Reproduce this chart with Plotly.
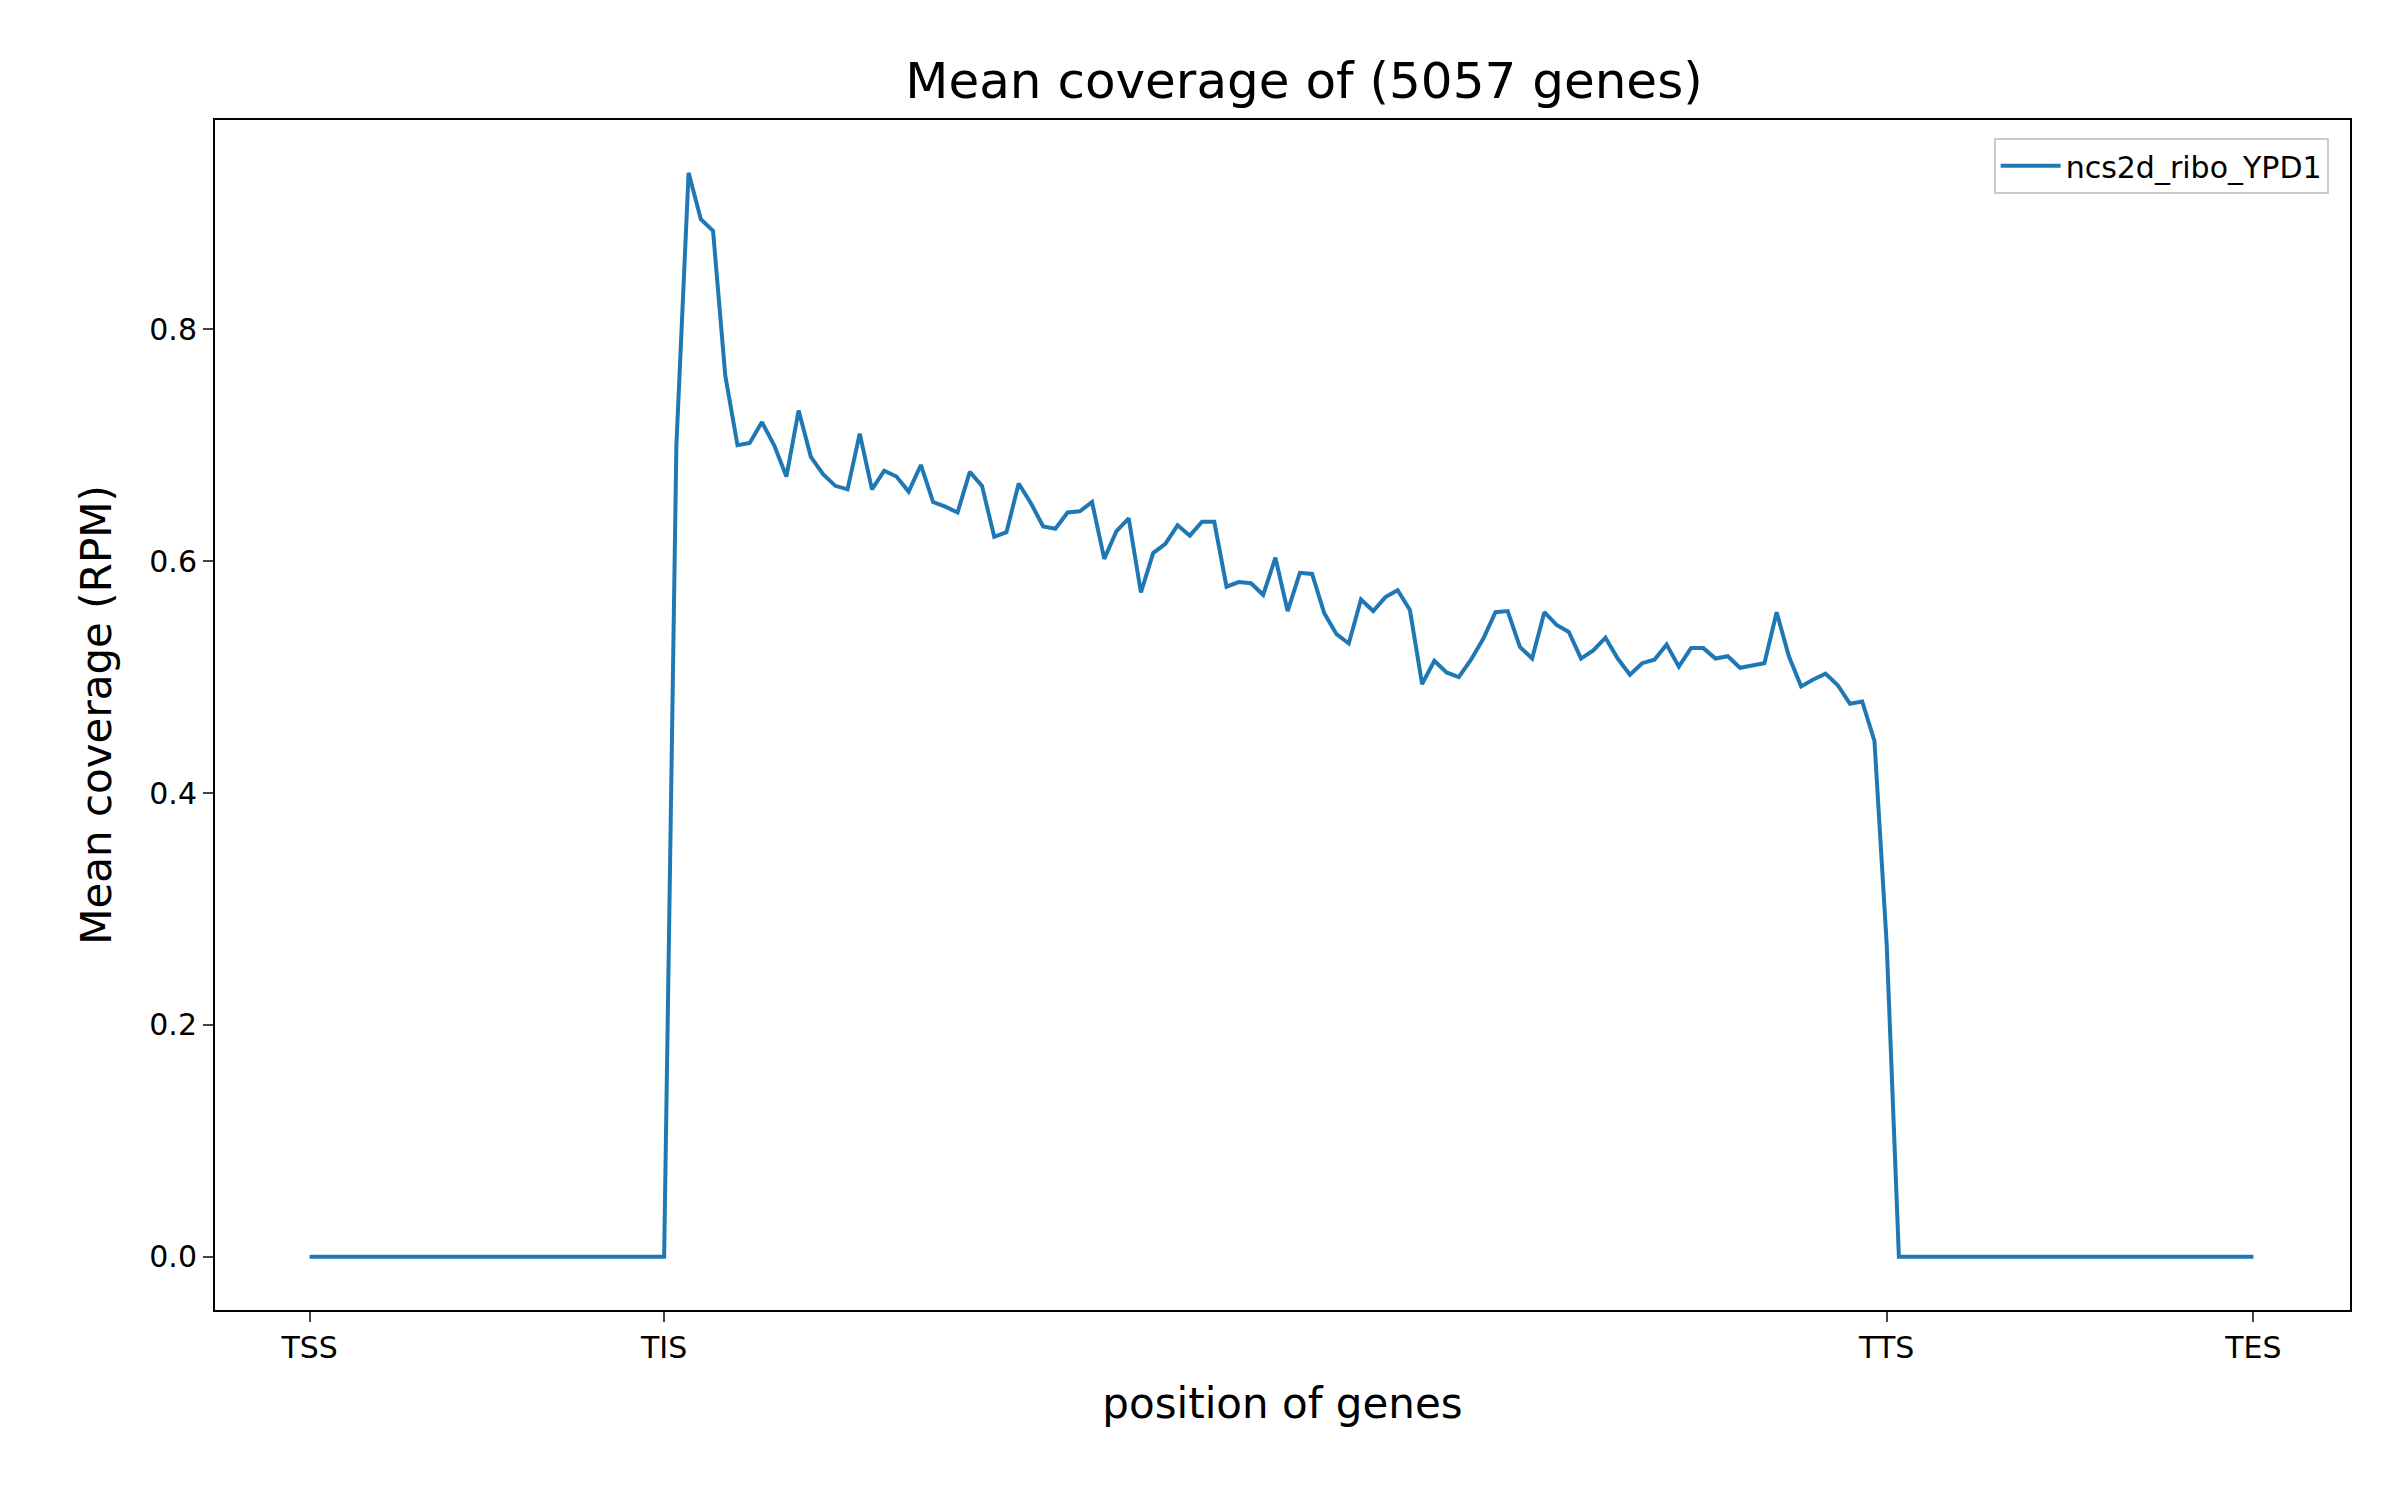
import plotly.graph_objects as go

# gene body meta-profile, one value per bin
pos_labels = ["TSS", "TIS", "TTS", "TES"]
pos_ticks = [0, 29, 129, 159]

upstream = [0.0] * 29
body = [0.0, 0.70, 0.935, 0.895, 0.885, 0.76, 0.70, 0.702, 0.72, 0.70,
        0.673, 0.73, 0.69, 0.675, 0.665, 0.662, 0.71, 0.662, 0.678, 0.673,
        0.66, 0.683, 0.651, 0.647, 0.642, 0.677, 0.665, 0.621, 0.625, 0.667,
        0.65, 0.63, 0.628, 0.642, 0.643, 0.651, 0.602, 0.626, 0.637, 0.573,
        0.607, 0.615, 0.631, 0.622, 0.634, 0.634, 0.578, 0.582, 0.581, 0.571,
        0.603, 0.557, 0.59, 0.589, 0.555, 0.537, 0.529, 0.567, 0.557, 0.569,
        0.575, 0.558, 0.494, 0.514, 0.504, 0.50, 0.515, 0.533, 0.556, 0.557,
        0.526, 0.516, 0.556, 0.545, 0.539, 0.516, 0.523, 0.534, 0.516, 0.502,
        0.512, 0.515, 0.528, 0.509, 0.525, 0.525, 0.516, 0.518, 0.508, 0.51,
        0.512, 0.556, 0.518, 0.492, 0.498, 0.503, 0.493, 0.477, 0.479, 0.445,
        0.27, 0.0]
downstream = [0.0] * 58

coverage = upstream + body + downstream
coverage = coverage[:160]
positions = list(range(len(coverage)))

fig = go.Figure()
fig.add_trace(go.Scatter(x=positions, y=coverage, mode="lines",
                         name="ncs2d_ribo_YPD1",
                         line=dict(color="#1f77b4", width=4)))

font = "DejaVu Sans"
fig.update_layout(
    width=2400, height=1500,
    plot_bgcolor="white", paper_bgcolor="white",
    margin=dict(l=207, r=58, t=112, b=198),
    font=dict(family=font, color="black"),
    title=dict(text="Mean coverage of (5057 genes)", x=0.54, xanchor="center",
               y=0.952, yanchor="middle", font=dict(size=50)),
    showlegend=True,
    legend=dict(x=0.99, y=0.985, xanchor="right", yanchor="top",
                bordercolor="#cccccc", borderwidth=2, bgcolor="white",
                font=dict(size=30), itemwidth=60),
)
fig.update_xaxes(range=[-7.74, 166.9], tickvals=pos_ticks, ticktext=pos_labels,
                 showgrid=False, zeroline=False, showline=True, mirror=True,
                 linecolor="black", linewidth=2, ticks="outside", ticklen=10,
                 tickwidth=2, tickfont=dict(size=30),
                 title=dict(text="position of genes", font=dict(size=42),
                            standoff=25))
fig.update_yaxes(range=[-0.046, 0.9806], tickvals=[0, 0.2, 0.4, 0.6, 0.8],
                 tickformat=".1f", showgrid=False, zeroline=False,
                 showline=True, mirror=True, linecolor="black", linewidth=2,
                 ticks="outside", ticklen=10, tickwidth=2, tickfont=dict(size=30),
                 title=dict(text="Mean coverage (RPM)", font=dict(size=42),
                            standoff=25))

fig.write_html("out.html")
